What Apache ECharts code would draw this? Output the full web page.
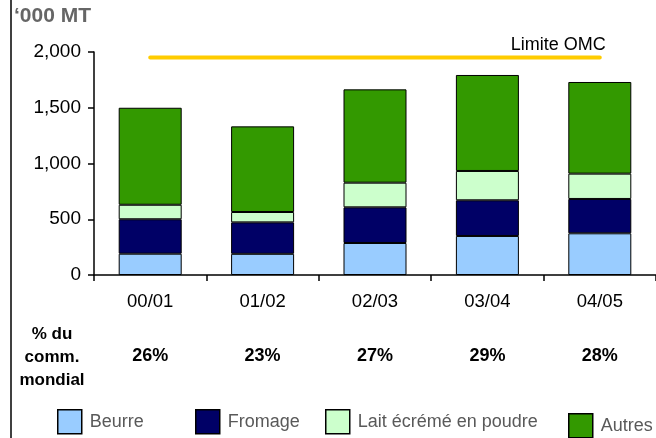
<!DOCTYPE html>
<html>
<head>
<meta charset="utf-8">
<script src="https://cdn.jsdelivr.net/npm/echarts@6/dist/echarts.min.js"></script>
<style>
html,body{margin:0;padding:0;background:#fff;}
#chart{width:656px;height:438px;}
</style>
</head>
<body>
<div id="chart"></div>
<script>
// Data
const categories = ['00/01', '01/02', '02/03', '03/04', '04/05'];
const beurre = [191, 190, 287, 350, 374];
const fromage = [309, 282, 320, 320, 308];
const lait = [130, 93, 221, 263, 227];
const autres = [870, 768, 837, 861, 822];
const limiteOMC = [1950, 1950, 1950, 1950, 1950];
const partCommerce = ['26%', '23%', '27%', '29%', '28%'];
const seriesNames = ['Beurre', 'Fromage', 'Lait écrémé en poudre', 'Autres'];
const yTicks = [0, 500, 1000, 1500, 2000];

const FONT = '"Liberation Sans", Arial, sans-serif';
const colors = ['#99CCFF', '#000066', '#CCFFCC', '#339900'];
const seriesData = [beurre, fromage, lait, autres];

const chart = echarts.init(document.getElementById('chart'), null, {renderer: 'canvas'});

const barSeries = seriesNames.map((name, i) => ({
  name: name,
  type: 'bar',
  stack: 'total',
  barWidth: 63,
  data: seriesData[i],
  itemStyle: {color: colors[i], borderColor: '#000', borderWidth: 1},
  emphasis: {disabled: true}
}));

const legendPos = [
  {left: 57, top: 409},
  {left: 195, top: 409},
  {left: 325, top: 409},
  {left: 568, top: 413}
];

const legends = seriesNames.map((name, i) => ({
  data: [name],
  left: legendPos[i].left,
  top: legendPos[i].top,
  padding: 0,
  icon: 'rect',
  itemWidth: 24,
  itemHeight: 24,
  itemGap: 0,
  selectedMode: false,
  itemStyle: {borderColor: '#000', borderWidth: 1.5},
  textStyle: {fontFamily: FONT, fontSize: 18, color: '#595959', padding: [0, 0, 0, 3]}
}));

const option = {
  animation: false,
  backgroundColor: '#fff',
  title: {
    text: '\u2018000 MT',
    left: 14,
    top: 6,
    padding: 0,
    textStyle: {fontFamily: FONT, fontSize: 21, fontWeight: 'bold', color: '#666666'}
  },
  legend: legends,
  grid: {left: 94, top: 52, width: 568, height: 223, containLabel: false},
  xAxis: [
    {
      type: 'category',
      data: categories,
      position: 'bottom',
      axisLine: {lineStyle: {color: '#000', width: 1.5}},
      axisTick: {show: true, length: 6, lineStyle: {color: '#000', width: 1.5}},
      axisLabel: {fontFamily: FONT, fontSize: 18.5, color: '#000', margin: 17}
    },
    {
      type: 'category',
      data: partCommerce,
      position: 'bottom',
      offset: 64,
      axisLine: {show: false},
      axisTick: {show: false},
      axisLabel: {fontFamily: FONT, fontSize: 18, fontWeight: 'bold', color: '#000', margin: 8}
    }
  ],
  yAxis: {
    type: 'value',
    min: yTicks[0],
    max: yTicks[yTicks.length - 1],
    interval: 500,
    axisLine: {show: true, lineStyle: {color: '#000', width: 1.5}},
    axisTick: {show: true, length: 6, lineStyle: {color: '#000', width: 1.5}},
    splitLine: {show: false},
    axisLabel: {
      fontFamily: FONT, fontSize: 19, color: '#000', margin: 13,
      formatter: v => v.toLocaleString('en-US')
    }
  },
  series: barSeries.concat([{
    name: 'Limite OMC',
    type: 'line',
    data: limiteOMC.map((v, i) => i === limiteOMC.length - 1 ? {
      value: v,
      label: {
        show: true, position: 'top', align: 'right', distance: 4, offset: [6, 0],
        formatter: 'Limite OMC',
        fontFamily: FONT, fontSize: 18, color: '#000'
      }
    } : v),
    symbol: 'circle',
    symbolSize: 0,
    showSymbol: true,
    showAllSymbol: true,
    itemStyle: {color: '#FFCC00'},
    lineStyle: {color: '#FFCC00', width: 4, cap: 'round'},
    emphasis: {disabled: true},
    z: 5
  }]),
  graphic: [
    {
      type: 'line',
      shape: {x1: 11, y1: 0, x2: 11, y2: 438},
      style: {stroke: '#000', lineWidth: 1.5}
    },
    {
      type: 'text',
      x: 52,
      y: 323,
      style: {
        text: '% du\ncomm.\nmondial',
        font: 'bold 17px ' + FONT,
        fill: '#000',
        lineHeight: 23,
        align: 'center'
      }
    }
  ]
};
chart.setOption(option);
</script>
</body>
</html>
